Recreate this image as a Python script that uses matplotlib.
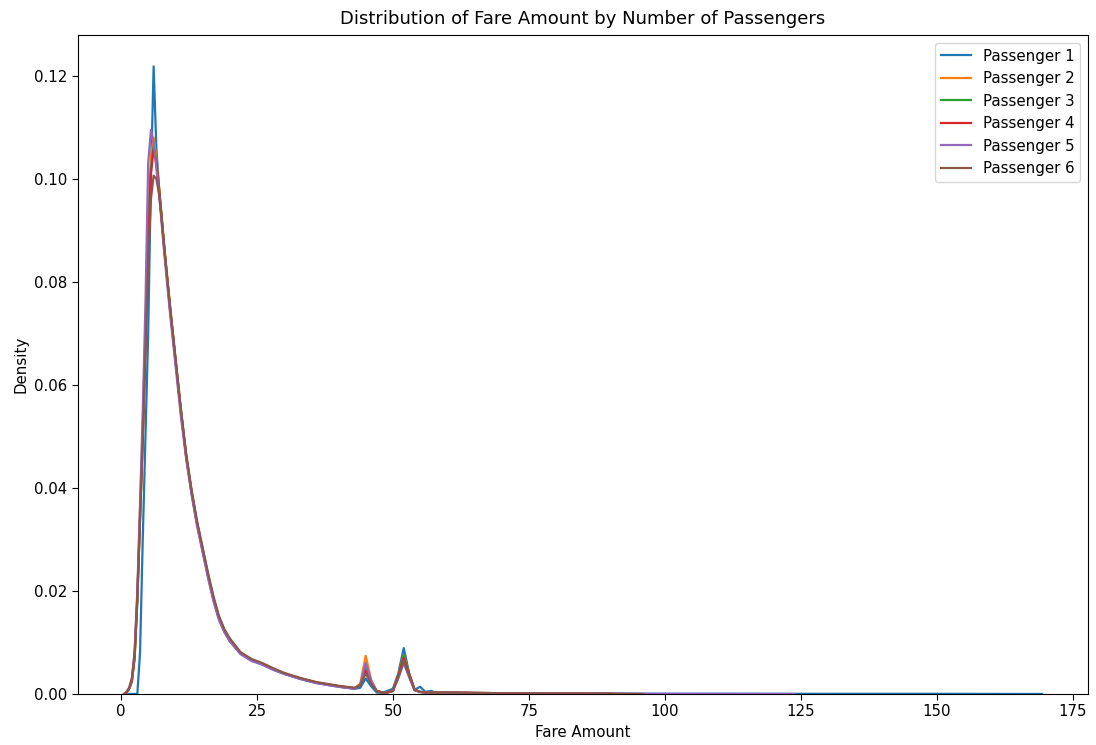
import matplotlib
matplotlib.use("Agg")
import matplotlib.pyplot as plt

# fare grid shared by all curves (the start and the end are per series)
fare_grid = [1, 1.5, 2, 2.5, 3, 3.5, 4, 4.5, 5, 5.5, 6, 6.5, 7, 7.5, 8,
             9, 10, 11, 12, 13, 14, 15, 16, 17, 18, 19, 20, 22, 24, 26, 28,
             30, 33, 36, 40, 43, 44, 45, 46, 47, 48, 49, 50, 51, 52, 53, 54,
             55, 56, 57, 58, 60, 65, 70, 80, 90]

labels = ["Passenger 1", "Passenger 2", "Passenger 3",
          "Passenger 4", "Passenger 5", "Passenger 6"]

# density, one list per passenger count
p1 = [0, 0, 0, 0, 0, 0.008, 0.03, 0.05, 0.07, 0.1, 0.1218, 0.106, 0.098, 0.092, 0.086,
      0.075, 0.065, 0.055, 0.046, 0.039, 0.033, 0.028, 0.023, 0.0183, 0.0146, 0.0121, 0.0103, 0.0078, 0.0065, 0.0057, 0.0047,
      0.0039, 0.0029, 0.0021, 0.0014, 0.001, 0.0012, 0.003, 0.0015, 0.0003, 0.0002, 0.0006, 0.001, 0.004, 0.0089, 0.004, 0.0008,
      0.0014, 0.0004, 0.0006, 0.0002, 0.0002, 0.00015, 0.0001, 0.00008, 0.00006]
p2 = [0.0003, 0.001, 0.0025, 0.007, 0.019, 0.036, 0.052, 0.071, 0.092, 0.104, 0.108, 0.104, 0.0985, 0.0925, 0.0865,
      0.0755, 0.0652, 0.0552, 0.0462, 0.0392, 0.0332, 0.0282, 0.0232, 0.0186, 0.0149, 0.0124, 0.0106, 0.008, 0.0066, 0.0058, 0.0048,
      0.004, 0.003, 0.0022, 0.0015, 0.0011, 0.002, 0.0074, 0.0028, 0.0006, 0.0003, 0.0003, 0.0006, 0.0036, 0.0075, 0.0038, 0.0008,
      0.0004, 0.0003, 0.0003, 0.0003, 0.0003, 0.0002, 0.00015, 0.0001, 0.00005]
p3 = [0.0003, 0.001, 0.0025, 0.007, 0.018, 0.034, 0.05, 0.069, 0.089, 0.102, 0.1064, 0.1035, 0.098, 0.092, 0.086,
      0.075, 0.065, 0.055, 0.046, 0.039, 0.033, 0.028, 0.023, 0.0185, 0.0148, 0.0123, 0.0105, 0.0079, 0.0066, 0.0058, 0.0048,
      0.004, 0.003, 0.0022, 0.0015, 0.0011, 0.0018, 0.005, 0.0023, 0.0006, 0.0003, 0.0003, 0.0006, 0.0036, 0.0075, 0.0038, 0.0008,
      0.0004, 0.0003, 0.0003, 0.0003, 0.0003, 0.0002, 0.00015, 0.0001, 0.00005]
p4 = [0.0003, 0.001, 0.0025, 0.007, 0.018, 0.034, 0.05, 0.068, 0.088, 0.101, 0.1058, 0.103, 0.098, 0.092, 0.086,
      0.075, 0.065, 0.055, 0.046, 0.039, 0.033, 0.028, 0.023, 0.0185, 0.0148, 0.0123, 0.0105, 0.0079, 0.0066, 0.0058, 0.0048,
      0.004, 0.003, 0.0022, 0.0015, 0.0011, 0.0018, 0.0045, 0.0022, 0.0006, 0.0003, 0.0003, 0.0006, 0.0035, 0.007, 0.0038, 0.0008,
      0.0004, 0.0003, 0.0003, 0.0003, 0.0003, 0.0002, 0.00015, 0.0001, 0.00005]
p5 = [0.0004, 0.0012, 0.003, 0.008, 0.02, 0.037, 0.055, 0.076, 0.103, 0.1095, 0.107, 0.102, 0.097, 0.091, 0.085,
      0.074, 0.064, 0.054, 0.0455, 0.0385, 0.0325, 0.0275, 0.0225, 0.018, 0.0144, 0.012, 0.0102, 0.0077, 0.0064, 0.0057, 0.0047,
      0.0039, 0.0029, 0.0021, 0.0014, 0.001, 0.0018, 0.006, 0.0026, 0.0006, 0.0003, 0.0003, 0.0006, 0.003, 0.006, 0.0032, 0.0007,
      0.0004, 0.0003, 0.0003, 0.0003, 0.0003, 0.0002, 0.00015, 0.0001, 0.00006]
p6 = [0.0004, 0.0012, 0.003, 0.008, 0.019, 0.034, 0.049, 0.066, 0.084, 0.096, 0.1006, 0.1, 0.097, 0.092, 0.086,
      0.0755, 0.0655, 0.0555, 0.0465, 0.0395, 0.0335, 0.0285, 0.0235, 0.019, 0.0152, 0.0126, 0.0108, 0.0081, 0.0068, 0.006, 0.005,
      0.0041, 0.0031, 0.0023, 0.0016, 0.0012, 0.0017, 0.004, 0.002, 0.0006, 0.0003, 0.0003, 0.0006, 0.0033, 0.0065, 0.0035, 0.0008,
      0.0004, 0.0003, 0.0003, 0.0003, 0.0003, 0.0002, 0.00015, 0.0001, 0.00006]
densities = [p1, p2, p3, p4, p5, p6]

# where each curve starts and what comes after the shared grid
start_x = [0.9, 0.7, 0.7, 0.7, 0.6, 0.54]
tail_x = [[100, 130, 150, 169.4], [88], [84], [92], [100, 124], [96]]
tail_y = [[0.00004, 0.00003, 0.00003, 0.0], [0.0], [0.0], [0.0], [0.00003, 0.0], [0.0]]

colors = ["#1f77b4", "#ff7f0e", "#2ca02c", "#d62728", "#9467bd", "#8c564b"]

fig = plt.figure(figsize=(10.96, 7.45), dpi=100)
ax = fig.add_axes([0.0712, 0.0685, 0.9215, 0.8845])

for i in range(6):
  xs = [start_x[i]] + fare_grid + tail_x[i]
  ys = [0.0] + densities[i] + tail_y[i]
  ax.plot(xs, ys, color=colors[i], lw=1.6, label=labels[i])

ax.set_ylim(0, None)
ax.set_xticks([0, 25, 50, 75, 100, 125, 150, 175])
ax.set_yticks([0.0, 0.02, 0.04, 0.06, 0.08, 0.10, 0.12])
ax.set_yticklabels(["0.00", "0.02", "0.04", "0.06", "0.08", "0.10", "0.12"])
ax.tick_params(labelsize=10.8, length=4)
ax.set_xlabel("Fare Amount", fontsize=10.8)
ax.set_ylabel("Density", fontsize=10.8)
ax.set_title("Distribution of Fare Amount by Number of Passengers", fontsize=13, pad=8)
ax.legend(loc="upper right", fontsize=10.8)

fig.savefig("out.png", dpi=100)
